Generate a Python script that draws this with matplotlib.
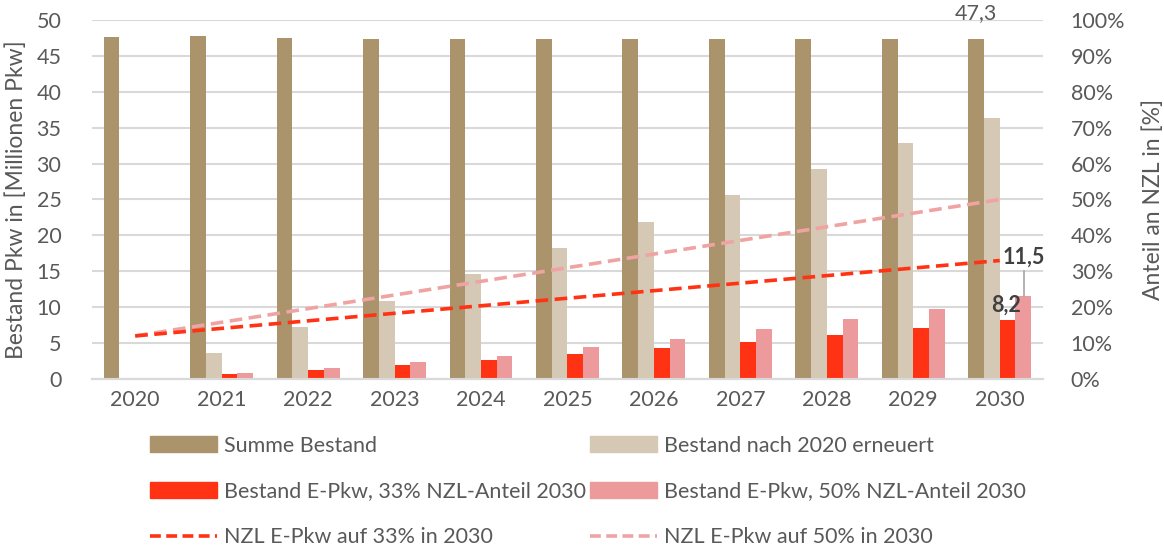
import numpy as np
import matplotlib.pyplot as plt
from matplotlib.patches import Patch
from matplotlib.lines import Line2D

plt.rcParams['font.family'] = ['Lato', 'DejaVu Sans']

years = ['2020', '2021', '2022', '2023', '2024', '2025', '2026', '2027', '2028', '2029', '2030']
summe_bestand = [47.6, 47.8, 47.5, 47.4, 47.3, 47.4, 47.4, 47.4, 47.3, 47.3, 47.3]
erneuert = [0.1, 3.6, 7.2, 10.9, 14.6, 18.3, 21.9, 25.6, 29.2, 32.8, 36.4]
epkw_33 = [0.2, 0.7, 1.3, 2.0, 2.7, 3.5, 4.3, 5.2, 6.1, 7.1, 8.2]
epkw_50 = [0.2, 0.8, 1.5, 2.3, 3.2, 4.4, 5.6, 6.9, 8.3, 9.8, 11.5]
nzl_33 = [12.0, 14.1, 16.2, 18.3, 20.4, 22.5, 24.6, 26.7, 28.8, 30.9, 33.0]
nzl_50 = [12.0, 15.8, 19.6, 23.4, 27.2, 31.0, 34.8, 38.6, 42.4, 46.2, 50.0]

c_summe = '#AB936C'
c_erneuert = '#D5C8B4'
c_red = '#FF3314'
c_pink = '#EC9A9C'
c_line50 = '#F0A3A3'
c_text = '#595959'
c_grid = '#D9D9D9'

fs = 15.5

fig = plt.figure(figsize=(11.64, 5.48), dpi=100)
ax = fig.add_axes([0.079, 0.3084, 0.817, 0.6551])
ax2 = ax.twinx()

x = np.arange(len(years))
w = 0.182
ax.bar(x - 1.5 * w, summe_bestand, w, color=c_summe, zorder=3)
ax.bar(x - 0.5 * w, erneuert, w, color=c_erneuert, zorder=3)
ax.bar(x + 0.5 * w, epkw_33, w, color=c_red, zorder=3)
ax.bar(x + 1.5 * w, epkw_50, w, color=c_pink, zorder=3)

ax2.plot(x, nzl_50, color=c_line50, lw=2.6, dashes=(3.5, 1.8), zorder=4)
ax2.plot(x, nzl_33, color=c_red, lw=2.6, dashes=(3.5, 1.8), zorder=4)

ax.set_xlim(-0.5, len(years) - 0.5)
ax.set_ylim(0, 50)
ax.set_yticks(range(0, 51, 5))
ax2.set_ylim(0, 100)
ax2.set_yticks(range(0, 101, 10))
ax2.set_yticklabels([f'{v}%' for v in range(0, 101, 10)])
ax.set_xticks(x)
ax.set_xticklabels(years)

ax.yaxis.grid(True, color=c_grid, lw=1.5, zorder=0)
ax.set_axisbelow(True)
for a in (ax, ax2):
    for s in ('top', 'left', 'right'):
        a.spines[s].set_visible(False)
    a.spines['bottom'].set_color(c_grid)
    a.spines['bottom'].set_linewidth(1.5)
    a.tick_params(length=0, labelsize=fs, colors=c_text)
ax.tick_params(axis='y', pad=22)
ax.tick_params(axis='x', pad=8)
ax2.tick_params(axis='y', pad=20)

ax.set_ylabel('Bestand Pkw in [Millionen Pkw]', fontsize=16.5, color=c_text, labelpad=7)
ax2.set_ylabel('Anteil an NZL in [%]', fontsize=16.5, color=c_text, labelpad=12)

# data labels for 2030
ax.text(x[-1] - 1.5 * w, 51.0, '47,3', ha='center', va='center', fontsize=fs,
        color=c_text, clip_on=False)
ax.text(10.28, 17.0, '11,5', ha='center', va='center', fontsize=fs,
        color='#404040', fontweight='bold', zorder=6)
ax.plot([10.28, 10.28], [15.1, 11.6], color='#A6A6A6', lw=1.2, zorder=5)
ax.text(10.07, 10.3, '8,2', ha='center', va='center', fontsize=fs,
        color='#404040', fontweight='bold', zorder=6)

col1 = [Patch(color=c_summe), Patch(color=c_red),
        Line2D([], [], color=c_red, lw=2.6, dashes=(3.0, 1.5))]
col1_labels = ['Summe Bestand', 'Bestand E-Pkw, 33% NZL-Anteil 2030', 'NZL E-Pkw auf 33% in 2030']
col2 = [Patch(color=c_erneuert), Patch(color=c_pink),
        Line2D([], [], color=c_line50, lw=2.6, dashes=(3.0, 1.5))]
col2_labels = ['Bestand nach 2020 erneuert', 'Bestand E-Pkw, 50% NZL-Anteil 2030', 'NZL E-Pkw auf 50% in 2030']

for handles, labels, x0 in ((col1, col1_labels, 0.129), (col2, col2_labels, 0.507)):
    fig.legend(handles, labels, loc='upper left', bbox_to_anchor=(x0, 0.205),
               frameon=False, fontsize=fs, labelcolor=c_text, handlelength=3.1,
               handleheight=0.75, handletextpad=0.35, labelspacing=1.2,
               borderpad=0, borderaxespad=0)

fig.savefig('out.png', dpi=100)
